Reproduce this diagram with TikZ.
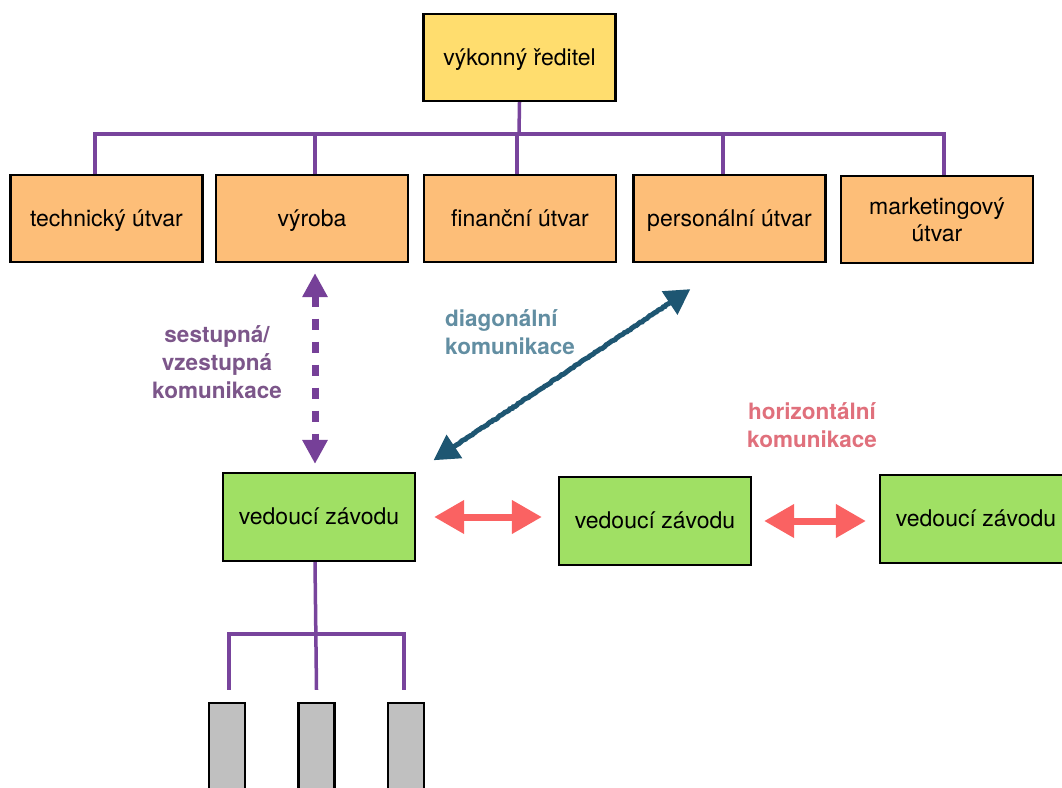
\documentclass[tikz,border=0pt]{standalone}
\usepackage{fontspec}
\setmainfont{TeX Gyre Heros}
\usepackage{tikz}
\definecolor{ceoyellow}{RGB}{255,221,110}
\definecolor{deptorange}{RGB}{253,190,120}
\definecolor{plantgreen}{RGB}{160,224,100}
\definecolor{unitgray}{RGB}{192,192,192}
\definecolor{treepurple}{RGB}{120,68,156}
\definecolor{vertpurple}{RGB}{118,64,152}
\definecolor{vertlabel}{RGB}{124,86,138}
\definecolor{diagteal}{RGB}{30,86,114}
\definecolor{diaglabel}{RGB}{98,142,162}
\definecolor{horizred}{RGB}{250,98,98}
\definecolor{horizlabel}{RGB}{224,112,124}
\usetikzlibrary{arrows.meta}
\usetikzlibrary{calc}
\usetikzlibrary{decorations.pathmorphing}
\tikzset{box/.style={rectangle,draw=black,line width=2.2pt,minimum width=192pt,minimum height=87pt,inner sep=0pt,align=center,text height=19pt,text depth=4pt,font=\fontsize{23}{27}\selectfont}}
\tikzset{ceo/.style={box,fill=ceoyellow}}
\tikzset{dept/.style={box,fill=deptorange}}
\tikzset{plant/.style={box,fill=plantgreen,minimum height=88pt}}
\tikzset{unit/.style={rectangle,draw=black,line width=2.2pt,fill=unitgray,minimum width=36pt,minimum height=100pt,inner sep=0pt}}
\tikzset{tree/.style={treepurple,line width=3.5pt}}
\tikzset{vertarrow/.style={vertpurple,line width=7pt,dash pattern=on 11pt off 12pt,{Triangle[width=24pt,length=24pt]}-{Triangle[width=24pt,length=24pt]}}}
\tikzset{horizarrow/.style={horizred,line width=7pt,{Triangle[width=32pt,length=30pt]}-{Triangle[width=32pt,length=30pt]}}}
\tikzset{diagarrow/.style={diagteal,line width=5pt,{Triangle[width=27pt,length=25pt]}-{Triangle[width=27pt,length=25pt]},decorate,decoration={random steps,segment length=2pt,amplitude=0.5pt,pre length=26pt,post length=26pt}}}
\tikzset{commlabel/.style={inner sep=0pt,font=\fontsize{22.5}{28}\selectfont\bfseries}}

\begin{document}
\begin{tikzpicture}[x=1pt,y=-1pt]
  \pgfmathsetseed{7}
  \useasboundingbox (0,0) rectangle (1062,787);
  \clip (0,0) rectangle (1062,787);

  % Boxes
  \node[ceo] (ceo) at (519.5,57.5) {výkonný ředitel};
  \node[dept] (tech) at (106.5,218.5) {technický útvar};
  \node[dept] (vyroba) at (312,218.5) {výroba};
  \node[dept] (fin) at (520,218.5) {finanční útvar};
  \node[dept] (pers) at (729.5,218.5) {personální útvar};
  \node[dept,text height={},text depth={}] (mkt) at (937,219.5) {marketingový\\útvar};
  \node[plant] (lead1) at (319,517) {vedoucí závodu};
  \node[plant] (lead2) at (655,521) {vedoucí závodu};
  \node[plant] (lead3) at (976,519) {vedoucí závodu};
  \node[unit] (unit1) at (227,753) {};
  \node[unit] (unit2) at (316.5,753) {};
  \node[unit] (unit3) at (406,753) {};

  % Tree lines
  \coordinate (bus) at (519,134);
  \draw[tree] (ceo.south) -- (bus);
  \draw[tree] ([xshift=-11.5pt]tech.north) |- (bus);
  \draw[tree] ([xshift=3pt]vyroba.north) |- (bus);
  \draw[tree] ([xshift=-3pt]fin.north) |- (bus);
  \draw[tree] ([xshift=-6.5pt]pers.north) |- (bus);
  \draw[tree] ([xshift=7pt]mkt.north) |- (bus);

  \coordinate (sub) at (316,634);
  \draw[tree] ([xshift=-4pt]lead1.south) -- ([yshift=12pt]unit2.north);
  \draw[tree] ([xshift=2pt,yshift=12pt]unit1.north) |- (sub);
  \draw[tree] ([xshift=-2pt,yshift=12pt]unit3.north) |- (sub);

  % Communication arrows
  \draw[vertarrow,shorten <=10pt,shorten >=8pt] ([xshift=3pt]vyroba.south) -- ([xshift=-4pt]lead1.north);
  \draw[horizarrow,shorten <=18pt,shorten >=16pt] (lead1.east) -- (lead1.east -| lead2.west);
  \draw[horizarrow,shorten <=12pt,shorten >=13pt] (lead2.east) -- (lead2.east -| lead3.west);
  \draw[diagarrow] ($(lead1.north east)!21pt!(pers.south)$) -- ($(pers.south)!47pt!(lead1.north east)$);

  % Labels
  \node[commlabel,text=vertlabel,align=center] (vertlbl) at (217,362) {sestupná/\\vzestupná\\komunikace};
  \node[commlabel,text=diaglabel,align=left,anchor=west] (diaglbl) at (445,332) {diagonální\\komunikace};
  \node[commlabel,text=horizlabel,align=center] (horizlbl) at (812,425) {horizontální\\komunikace};
\end{tikzpicture}
\end{document}
